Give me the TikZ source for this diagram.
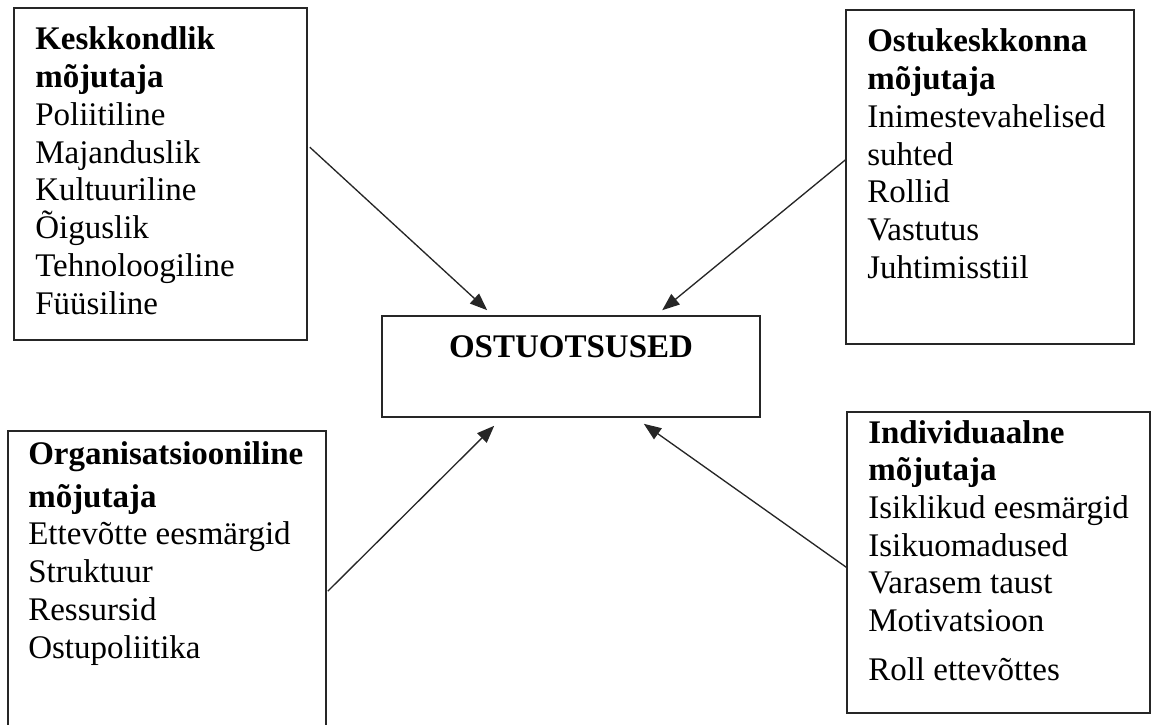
\documentclass[tikz,border=0pt]{standalone}
\usepackage{fontspec}
\setmainfont{Liberation Serif}
\usetikzlibrary{arrows.meta,calc,fit}
\begin{document}
\begin{tikzpicture}[
    x=0.75pt, y=-0.75pt,
    box/.style={rectangle, draw=black!85, line width=1.2pt, inner sep=0pt},
    boxtext/.style={anchor=base west, inner sep=0pt, font=\fontsize{24.75pt}{28.3pt}\selectfont},
    arr/.style={draw=black!85, line width=1pt, -{Triangle[length=13pt,width=10pt]}}
    ]
    \useasboundingbox (0,0) rectangle (1155,724);
    % kastid
    \node[box, fit={(14,8) (307,340)}] (keskk) {};
    \node[box, fit={(846,10) (1134,344)}] (ostuk) {};
    \node[box, fit={(8,431) (326,740)}] (organ) {};
    \node[box, fit={(847,412) (1150,713)}] (indiv) {};
    \node[box, fit={(382,316) (760,417)}] (otsus) {};
    % tekstid
    \node[boxtext] (keskktxt) at (35,50) {\parbox[t]{250pt}{\textbf{Keskkondlik}\\
      \textbf{mõjutaja}\\ Poliitiline\\ Majanduslik\\ Kultuuriline\\ Õiguslik\\
      Tehnoloogiline\\ Füüsiline}};
    \node[boxtext] (ostuktxt) at (867,52) {\parbox[t]{250pt}{\textbf{Ostukeskkonna}\\
      \textbf{mõjutaja}\\ Inimestevahelised\\ suhted\\ Rollid\\ Vastutus\\ Juhtimisstiil}};
    \node[boxtext] (organtxt) at (28,464) {\parbox[t]{250pt}{\textbf{Organisatsiooniline}\\[4pt]
      \textbf{mõjutaja}\\ Ettevõtte eesmärgid\\ Struktuur\\ Ressursid\\ Ostupoliitika}};
    \node[boxtext] (indivtxt) at (868,443) {\parbox[t]{250pt}{\textbf{Individuaalne}\\
      \textbf{mõjutaja}\\ Isiklikud eesmärgid\\ Isikuomadused\\ Varasem taust\\
      Motivatsioon\\[8.5pt] Roll ettevõttes}};
    \node[boxtext, anchor=base] (otsustxt) at (571,357) {\textbf{OSTUOTSUSED}};
    % nooled
    \draw[arr] ($(keskk.north east)+(2,140)$) -- ($(otsus.north west)+(106,-5)$);
    \draw[arr] ($(ostuk.north west)+(1,150)$) -- ($(otsus.north west)+(281,-5)$);
    \draw[arr] ($(organ.north east)+(1,161)$) -- ($(otsus.south west)+(113,8)$);
    \draw[arr] ($(indiv.north west)+(0,156)$) -- ($(otsus.south east)+(-117,6)$);
\end{tikzpicture}
\end{document}
